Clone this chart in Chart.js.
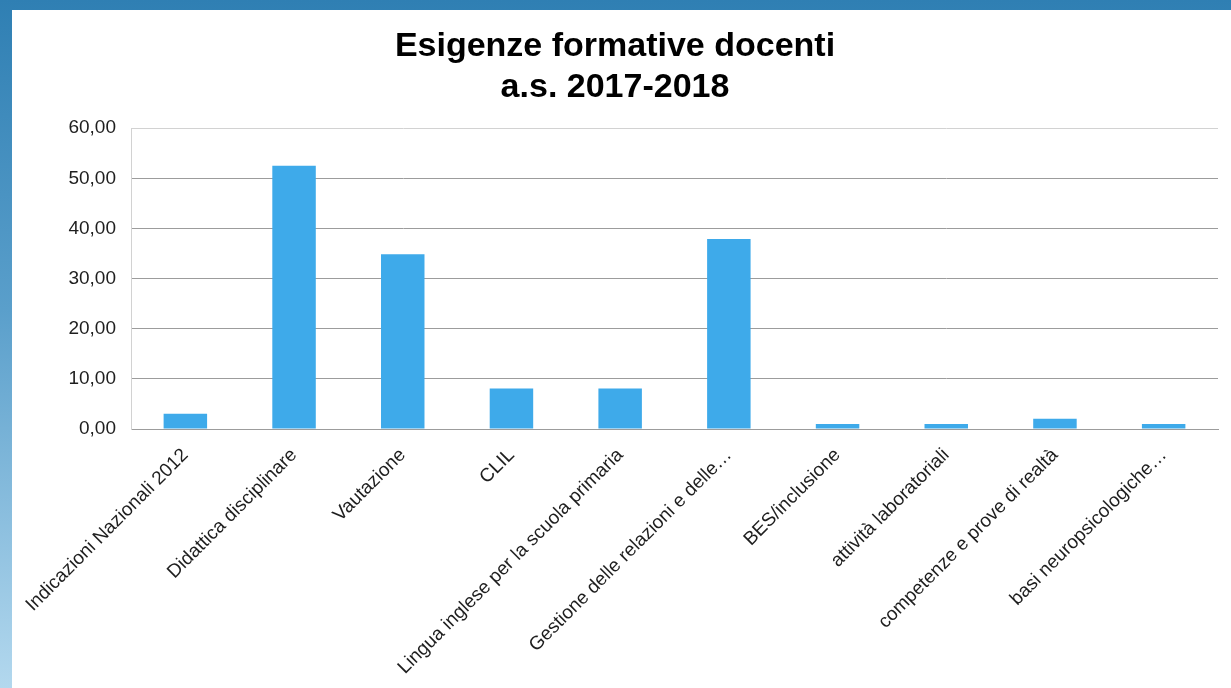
<!DOCTYPE html>
<html>
<head>
<meta charset="utf-8">
<script src="https://cdn.jsdelivr.net/npm/chart.js@4.4.1/dist/chart.umd.min.js"></script>
<style>
  html, body { margin: 0; padding: 0; width: 1231px; height: 688px; overflow: hidden; }
  body { background: linear-gradient(to bottom, #2f7fb3 0%, #5a9fcb 45%, #b3d8ee 100%); position: relative; }
  #panel { position: absolute; left: 12px; top: 10px; width: 1219px; height: 678px; background: #ffffff; }
  #chart { display: block; }
</style>
</head>
<body>
<div id="panel"><canvas id="chart" width="1219" height="678"></canvas></div>
<script>
// ---- data ----
var categories = [
  'Indicazioni Nazionali 2012',
  'Didattica disciplinare',
  'Vautazione',
  'CLIL',
  'Lingua inglese per la scuola primaria',
  'Gestione delle relazioni e delle\u2026',
  'BES/inclusione',
  'attivit\u00e0 laboratoriali',
  'competenze e prove di realt\u00e0',
  'basi neuropsicologiche\u2026'
];
var percentages = [3.03, 52.53, 34.85, 8.08, 8.08, 37.88, 1.01, 1.01, 2.02, 1.01];
var titleLines = ['Esigenze formative docenti', 'a.s. 2017-2018'];

var FONT = 'Arial, "Liberation Sans", sans-serif';

var ctx = document.getElementById('chart').getContext('2d');
var chart = new Chart(ctx, {
  type: 'bar',
  data: { labels: categories, datasets: [{
    data: percentages,
    backgroundColor: '#3eaaea', borderWidth: 0,
    barPercentage: 0.8, categoryPercentage: 0.5
  }] },
  options: {
    responsive: false, animation: false,
    layout: { padding: { left: 0, right: 13, top: 0, bottom: 0 } },
    plugins: {
      legend: { display: false },
      tooltip: { enabled: false },
      title: {
        display: true, text: titleLines, color: '#000000',
        font: { family: FONT, size: 34, weight: 'bold', lineHeight: 1.18 },
        padding: { top: 17, bottom: 21 }
      }
    },
    scales: {
      x: {
        grid: { display: false, drawTicks: false },
        border: { display: true, color: '#9c9c9c', width: 1 },
        ticks: {
          color: '#1e1e1e', autoSkip: false, minRotation: 45, maxRotation: 45, padding: 15,
          font: { family: FONT, size: 19 }
        },
        afterFit: function(scale) { scale.height = 259; scale.paddingLeft = 0; }
      },
      y: {
        min: 0, max: 60,
        grid: {
          drawTicks: false,
          color: function(c) { return c.tick && c.tick.value === 60 ? '#d2d2d2' : '#9c9c9c'; }
        },
        border: { display: true, color: '#d2d2d2', width: 1 },
        ticks: {
          stepSize: 10, padding: 15, color: '#1e1e1e',
          font: { family: FONT, size: 19 },
          callback: function(v) { return v.toFixed(2).replace('.', ','); }
        },
        afterFit: function(scale) { scale.width = 119; }
      }
    }
  }
});
</script>
</body>
</html>
